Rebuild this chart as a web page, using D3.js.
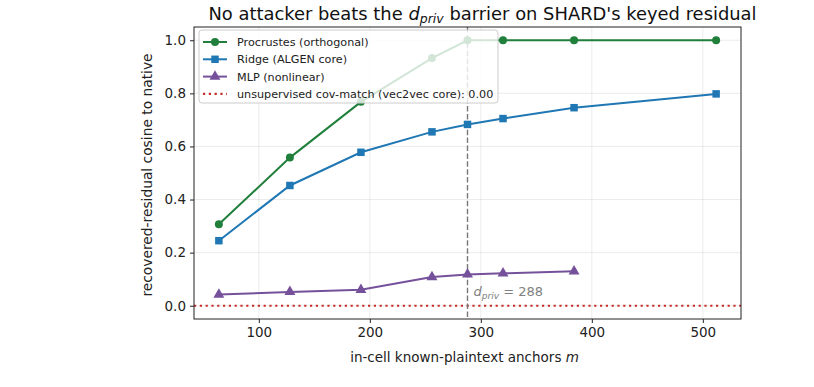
<!DOCTYPE html>
<html><head><meta charset="utf-8">
<script src="https://cdn.jsdelivr.net/npm/d3@7/dist/d3.min.js"></script>
<style>body{margin:0;background:#fff}svg{display:block;font-family:"DejaVu Sans",sans-serif}</style>
</head><body><svg id="c" width="814" height="387"></svg>
<script>
const anchors = [64, 128, 192, 256, 288, 320, 384, 512];
const procrustes = [0.307, 0.558, 0.768, 0.933, 1.0, 1.0, 1.0, 1.0];
const ridge = [0.245, 0.453, 0.578, 0.655, 0.683, 0.705, 0.746, 0.798];
const mlpAnchors = [64, 128, 192, 256, 288, 320, 384];
const mlp = [0.042, 0.052, 0.060, 0.108, 0.118, 0.122, 0.130];
const covMatch = 0.0;
const dPriv = 288;
const xTicks = [100, 200, 300, 400, 500];
const yTicks = [0.0, 0.2, 0.4, 0.6, 0.8, 1.0];

const svg = d3.select("#c");
const L = 194, R = 741, T = 27, B = 319;
const x = d3.scaleLinear().domain([41.6, 534.4]).range([L, R]);
const y = d3.scaleLinear().domain([-0.05, 1.05]).range([B, T]);

const g = svg.append("g");
g.selectAll(".gx").data(xTicks).enter().append("line")
  .attr("x1", d => x(d)).attr("x2", d => x(d)).attr("y1", T).attr("y2", B)
  .attr("stroke", "#b0b0b0").attr("stroke-opacity", 0.3).attr("stroke-width", 0.8);
g.selectAll(".gy").data(yTicks).enter().append("line")
  .attr("y1", d => y(d)).attr("y2", d => y(d)).attr("x1", L).attr("x2", R)
  .attr("stroke", "#b0b0b0").attr("stroke-opacity", 0.3).attr("stroke-width", 0.8);

g.append("line").attr("x1", L).attr("x2", R).attr("y1", y(covMatch)).attr("y2", y(covMatch))
  .attr("stroke", "#c62d28").attr("stroke-width", 2.2).attr("stroke-dasharray", "2.2,3.6");

g.append("line").attr("x1", x(dPriv)).attr("x2", x(dPriv)).attr("y1", T).attr("y2", B)
  .attr("stroke", "#777").attr("stroke-width", 1.4).attr("stroke-dasharray", "5.5,2.4");

const line = d3.line().x(d => x(d[0])).y(d => y(d[1]));
function symFor(shape) {
  return d3.symbol().type(shape === "circle" ? d3.symbolCircle : shape === "square" ? d3.symbolSquare : d3.symbolTriangle)
    .size(shape === "circle" ? 50 : shape === "square" ? 56 : 52);
}
function series(xs, ys, color, shape) {
  const pts = xs.map((v, i) => [v, ys[i]]);
  g.append("path").datum(pts).attr("d", line).attr("fill", "none")
    .attr("stroke", color).attr("stroke-width", 2);
  g.selectAll(null).data(pts).enter().append("path")
    .attr("d", symFor(shape)).attr("transform", d => `translate(${x(d[0])},${y(d[1])})`)
    .attr("fill", color);
}
const cP = "#1f7f3b", cR = "#1f77b4", cM = "#76519b";
series(anchors, procrustes, cP, "circle");
series(anchors, ridge, cR, "square");
series(mlpAnchors, mlp, cM, "triangle");

const ann = g.append("text").attr("x", x(dPriv) + 6).attr("y", y(0.05) + 4)
  .attr("fill", "#808080").attr("font-size", 13);
ann.append("tspan").attr("font-style", "italic").text("d");
ann.append("tspan").attr("font-style", "italic").attr("font-size", 9).attr("dy", 3).text("priv");
ann.append("tspan").attr("dy", -3).text(" = 288");

svg.append("rect").attr("x", L).attr("y", T).attr("width", R - L).attr("height", B - T)
  .attr("fill", "none").attr("stroke", "#222").attr("stroke-width", 1);

const ax = svg.append("g").attr("transform", `translate(0,${B})`)
  .call(d3.axisBottom(x).tickValues(xTicks).tickSize(4).tickPadding(4).tickFormat(d3.format("d")));
const ay = svg.append("g").attr("transform", `translate(${L},0)`)
  .call(d3.axisLeft(y).tickValues(yTicks).tickSize(4).tickPadding(4).tickFormat(d3.format(".1f")));
[ax, ay].forEach(a => {
  a.select(".domain").remove();
  a.selectAll("line").attr("stroke", "#222");
  a.selectAll("text").attr("font-size", 13.5).attr("fill", "#222").attr("font-family", "DejaVu Sans");
});

const xl = svg.append("text").attr("x", (L + R) / 2 - 3).attr("y", 362).attr("text-anchor", "middle")
  .attr("font-size", 13.5).attr("fill", "#222");
xl.append("tspan").text("in-cell known-plaintext anchors ");
xl.append("tspan").attr("font-style", "italic").text("m");

svg.append("text").attr("transform", `translate(152,175) rotate(-90)`)
  .attr("text-anchor", "middle").attr("font-size", 13.8).attr("fill", "#222")
  .text("recovered-residual cosine to native");

const tt = svg.append("text").attr("x", (L + R) / 2 + 15).attr("y", 20).attr("text-anchor", "middle")
  .attr("font-size", 17.9).attr("fill", "#111");
tt.append("tspan").text("No attacker beats the ");
tt.append("tspan").attr("font-style", "italic").text("d");
tt.append("tspan").attr("font-style", "italic").attr("font-size", 12.5).attr("dy", 3).text("priv");
tt.append("tspan").attr("dy", -3).text(" barrier on SHARD's keyed residual");

const lg = svg.append("g").attr("transform", "translate(199,30)");
lg.append("rect").attr("width", 299).attr("height", 73).attr("rx", 3)
  .attr("fill", "#fff").attr("fill-opacity", 0.8).attr("stroke", "#ccc");
const items = [
  {label: "Procrustes (orthogonal)", color: cP, shape: "circle"},
  {label: "Ridge (ALGEN core)", color: cR, shape: "square"},
  {label: "MLP (nonlinear)", color: cM, shape: "triangle"},
  {label: "unsupervised cov-match (vec2vec core): 0.00", color: "#c62d28", shape: "dot"}
];
items.forEach((it, i) => {
  const yy = 12 + i * 17.3;
  const row = lg.append("g").attr("transform", `translate(0,${yy})`);
  if (it.shape === "dot") {
    row.append("line").attr("x1", 4).attr("x2", 28).attr("stroke", it.color).attr("stroke-width", 2.2).attr("stroke-dasharray", "2.2,3.6");
  } else {
    row.append("line").attr("x1", 4).attr("x2", 28).attr("stroke", it.color).attr("stroke-width", 2);
    row.append("path").attr("d", symFor(it.shape)).attr("transform", "translate(16,0)").attr("fill", it.color);
  }
  row.append("text").attr("x", 38).attr("y", 4).attr("font-size", 11.2).attr("fill", "#222").text(it.label);
});
</script></body></html>
